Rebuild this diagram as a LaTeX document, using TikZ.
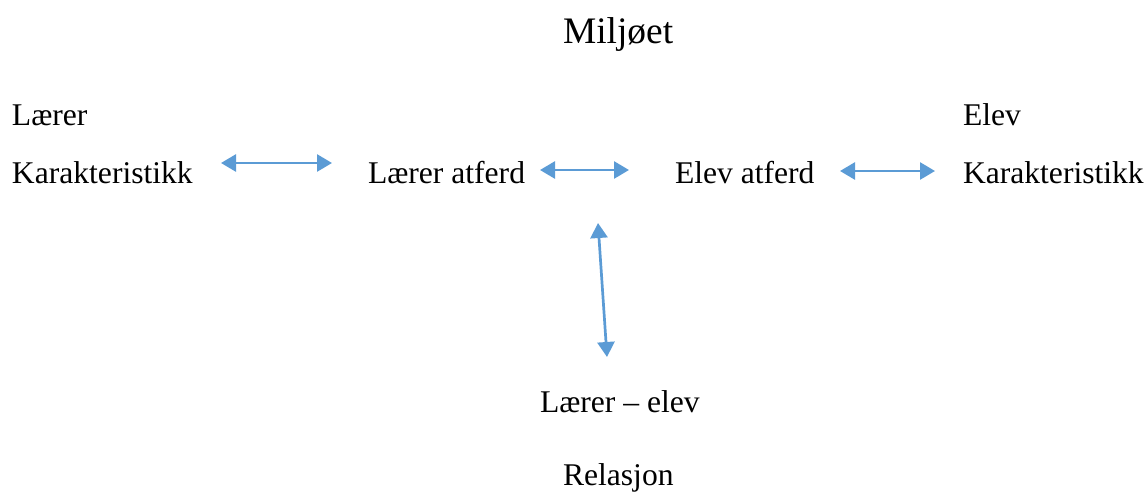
\documentclass[tikz,border=0pt]{standalone}
\usepackage{fontspec}
\setmainfont{Liberation Serif}
\usetikzlibrary{arrows.meta}
\definecolor{arrowblue}{HTML}{5B9BD5}
\begin{document}
\begin{tikzpicture}[x=1pt,y=-1pt,
  lbl/.style={inner sep=0pt,outer sep=0pt,anchor=base west,font=\fontsize{31.6}{36}\selectfont},
  ttl/.style={inner sep=0pt,outer sep=0pt,anchor=base west,font=\fontsize{37.4}{42}\selectfont},
  link/.style={draw=arrowblue,line width=2.7pt,{Triangle[length=15pt,width=17pt]}-{Triangle[length=15pt,width=17pt]},arrowblue}]
\useasboundingbox (0,0) rectangle (1148,493);
\node[ttl] (miljo) at (563,43) {Miljøet};
\node[lbl] (lt) at (12,125) {Lærer};
\node[lbl] (lk) at (12,183) {Karakteristikk};
\node[lbl] (la) at (368,183) {Lærer atferd};
\node[lbl] (ea) at (675,183) {Elev atferd};
\node[lbl] (et) at (963,125) {Elev};
\node[lbl] (ek) at (963,183) {Karakteristikk};
\node[lbl] (rel1) at (540,412) {Lærer – elev};
\node[lbl] (rel2) at (563,485) {Relasjon};
\coordinate (a1s) at (221,163);
\coordinate (a1e) at (332,163);
\coordinate (a2s) at (540,170);
\coordinate (a2e) at (629,170);
\coordinate (a3s) at (840,171);
\coordinate (a3e) at (935,171);
\coordinate (a4s) at (598,223);
\coordinate (a4e) at (607,357);
\draw[link] (a1s) -- (a1e);
\draw[link] (a2s) -- (a2e);
\draw[link] (a3s) -- (a3e);
\draw[link] (a4s) -- (a4e);
\end{tikzpicture}
\end{document}
